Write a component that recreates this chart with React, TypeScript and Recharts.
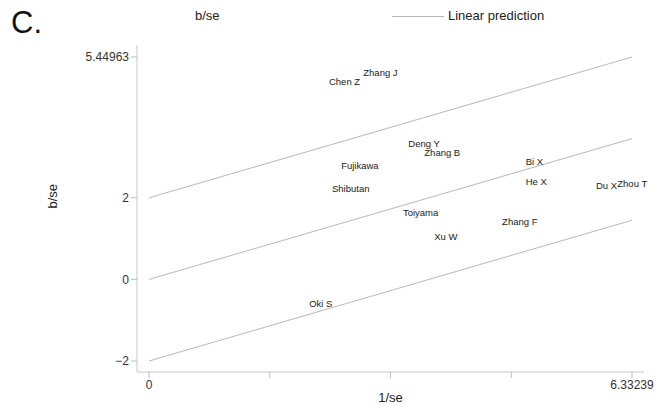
import React from "react";
import { ComposedChart, Scatter, Line, XAxis, YAxis } from "recharts";

const studyNames = ["Chen Z", "Zhang J", "Deng Y", "Zhang B", "Fujikawa", "Shibutan", "Bi X", "He X", "Du X", "Zhou T", "Toiyama", "Zhang F", "Xu W", "Oki S"];
const invSe = [2.32, 2.77, 3.36, 3.57, 2.48, 2.36, 4.90, 4.90, 5.82, 6.10, 3.29, 4.59, 3.70, 2.06];
const bSe = [4.86, 5.08, 3.34, 3.12, 2.78, 2.22, 2.88, 2.41, 2.29, 2.36, 1.63, 1.43, 1.04, -0.58];

const lineX = [0, 6.33239];
const centerLine = [0, 3.44963];
const upperLine = [2, 5.44963];
const lowerLine = [-2, 1.44963];

const xTicks = [0, 1.5831, 3.1662, 4.7493, 6.33239];
const xTickLabels = ["0", "", "", "", "6.33239"];
const yTicks = [-2, 0, 2, 5.44963];
const yTickLabels = ["\u22122", "0", "2", "5.44963"];

const points = studyNames.map((name, i) => ({ name, x: invSe[i], y: bSe[i] }));
const lines = lineX.map((x, i) => ({ x, center: centerLine[i], upper: upperLine[i], lower: lowerLine[i] }));

const FONT = "'Liberation Sans', Arial, Helvetica, sans-serif";
const LINE_COLOR = "#b8b8b8";

const LabelShape = (props: any) => {
  const { cx, cy, payload } = props;
  return (
    <text x={cx + 3} y={cy} dominantBaseline="central" fontSize={9.5} fill="#222" fontFamily={FONT}>
      {payload.name}
    </text>
  );
};

export default function App() {
  return (
    <div style={{ position: "absolute", left: 0, top: 0, width: 656, height: 406, background: "#fff", fontFamily: FONT }}>
      <div style={{ position: "absolute", left: 11, top: 3, fontSize: 31, color: "#111", lineHeight: "40px" }}>C.</div>
      <div style={{ position: "absolute", left: 195, top: 8, fontSize: 13, color: "#222", lineHeight: "16px" }}>b/se</div>
      <div style={{ position: "absolute", left: 392, top: 16, width: 52, height: 1, background: LINE_COLOR }} />
      <div style={{ position: "absolute", left: 448, top: 8, fontSize: 13, color: "#222", lineHeight: "16px" }}>Linear prediction</div>
      <ComposedChart width={656} height={406} margin={{ top: 45, right: 12, left: 0, bottom: 0 }} style={{ fontFamily: FONT }}>
        <XAxis
          type="number"
          dataKey="x"
          domain={[0, 6.33239]}
          ticks={xTicks}
          tickFormatter={(v: number, i: number) => xTickLabels[i]}
          padding={{ left: 12, right: 12 }}
          height={34}
          stroke="#c8c8c8"
          tickLine={{ stroke: "#bdbdbd" }}
          tickSize={6}
          tick={{ fill: "#333", fontSize: 12 }}
          label={{ value: "1/se", position: "insideBottom", offset: 0, dy: -4, fill: "#222", fontSize: 13 }}
        />
        <YAxis
          type="number"
          dataKey="y"
          domain={[-2, 5.44963]}
          ticks={yTicks}
          tickFormatter={(v: number, i: number) => yTickLabels[i]}
          padding={{ top: 12, bottom: 11 }}
          width={137}
          stroke="#c8c8c8"
          tickLine={{ stroke: "#bdbdbd" }}
          tickSize={6}
          tick={{ fill: "#333", fontSize: 12 }}
          label={{ value: "b/se", angle: -90, position: "insideLeft", offset: 52, fill: "#222", fontSize: 13 }}
        />
        <Line data={lines} dataKey="upper" stroke={LINE_COLOR} strokeWidth={1} dot={false} isAnimationActive={false} />
        <Line data={lines} dataKey="center" stroke={LINE_COLOR} strokeWidth={1} dot={false} isAnimationActive={false} />
        <Line data={lines} dataKey="lower" stroke={LINE_COLOR} strokeWidth={1} dot={false} isAnimationActive={false} />
        <Scatter data={points} dataKey="y" shape={LabelShape} isAnimationActive={false} />
      </ComposedChart>
    </div>
  );
}
